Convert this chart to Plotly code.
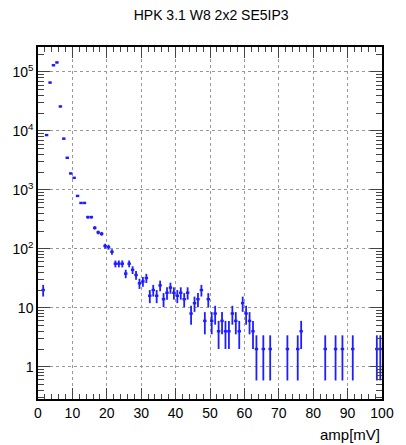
import numpy as np
import plotly.graph_objects as go

# bin lower edges (1 mV bins from 0 to 100) and counts
bin_low = [1, 2, 3, 4, 5, 6, 7, 8, 9, 10, 11, 12, 13, 14, 15, 16, 17, 18, 19, 20,
           21, 22, 23, 24, 25, 26, 27, 28, 29, 30, 31, 32, 33, 34, 35, 36, 37, 38, 39, 40,
           41, 42, 43, 44, 45, 46, 47, 48, 49, 50, 51, 52, 53, 54, 55, 56, 57, 58, 59, 60,
           61, 62, 63, 65, 67, 72, 75, 76, 83, 86, 88, 91, 98, 99]
counts = [20, 8500, 66000, 130000, 145000, 26000, 7400, 3500, 1900, 1600,
          790, 600, 600, 345, 345, 227, 190, 180, 112, 107,
          89, 56, 56, 56, 38, 56, 44, 36, 26, 28,
          32, 16, 20, 16, 24, 14, 18, 22, 18, 16,
          18, 14, 18, 8, 12, 14, 20, 6, 14, 6,
          8, 4, 6, 4, 4, 8, 6, 4, 12, 8,
          6, 4, 2, 2, 2, 2, 2, 4, 2, 2,
          2, 2, 2, 2]
bin_width = 1.0

x_ticks = [0, 10, 20, 30, 40, 50, 60, 70, 80, 90, 100]
y_tickvals = [1, 10, 100, 1000, 10000, 100000]
y_ticktext = ["1", "10", "10<sup>2</sup>", "10<sup>3</sup>", "10<sup>4</sup>", "10<sup>5</sup>"]

x = np.array(bin_low) + bin_width / 2
y = np.array(counts, dtype=float)
err = np.sqrt(y)

col = "rgb(30,30,255)"
fig = go.Figure()
fig.add_trace(go.Scatter(
    x=x, y=y, mode="markers",
    marker=dict(size=2, color=col),
    error_y=dict(type="data", array=err, color=col, thickness=1.8, width=0),
    error_x=dict(type="constant", value=bin_width / 2, color=col, thickness=2.4, width=0),
    showlegend=False,
))

minor_y = [m * 10 ** e for e in range(-1, 6) for m in range(2, 10)]
minor_y = [v for v in minor_y if 0.284 <= v <= 265000]

font_family = "Liberation Sans Narrow, Liberation Sans, Arial, sans-serif"
fig.update_layout(
    width=406, height=445,
    margin=dict(l=31, r=13, t=47, b=46),
    paper_bgcolor="white", plot_bgcolor="white",
    font=dict(family=font_family, size=14, color="black"),
    title=dict(text="HPK 3.1 W8 2x2 SE5IP3", x=0.52, xanchor="center", y=0.965, yanchor="middle",
               font=dict(size=14, family="Liberation Sans, Arial, sans-serif")),
    xaxis=dict(range=[0, 100], tickvals=x_ticks, ticks="inside", ticklen=11, tickwidth=1,
               showline=True, linecolor="black", linewidth=1.5, mirror="allticks",
               showgrid=True, gridcolor="#999999", griddash="dot", gridwidth=1,
               zeroline=False,
               minor=dict(dtick=2, tick0=0, ticks="inside", ticklen=5, showgrid=False),
               tickfont=dict(size=14, family="Liberation Sans, Arial, sans-serif")),
    yaxis=dict(type="log", range=[np.log10(0.284), np.log10(265000)],
               tickvals=y_tickvals, ticktext=y_ticktext, ticks="inside", ticklen=12, tickwidth=1,
               showline=True, linecolor="black", linewidth=1.5, mirror="allticks",
               showgrid=True, gridcolor="#999999", griddash="dot", gridwidth=1,
               zeroline=False,
               minor=dict(tickmode="array", tickvals=minor_y, ticks="inside", ticklen=6, showgrid=False),
               tickfont=dict(size=14, family="Liberation Sans, Arial, sans-serif")),
    annotations=[dict(text="amp[mV]", xref="paper", yref="paper", x=1.0, y=-0.072,
                      xanchor="right", yanchor="top", showarrow=False,
                      font=dict(size=15, family="Liberation Sans, Arial, sans-serif"))],
)
fig.write_html("out.html")
